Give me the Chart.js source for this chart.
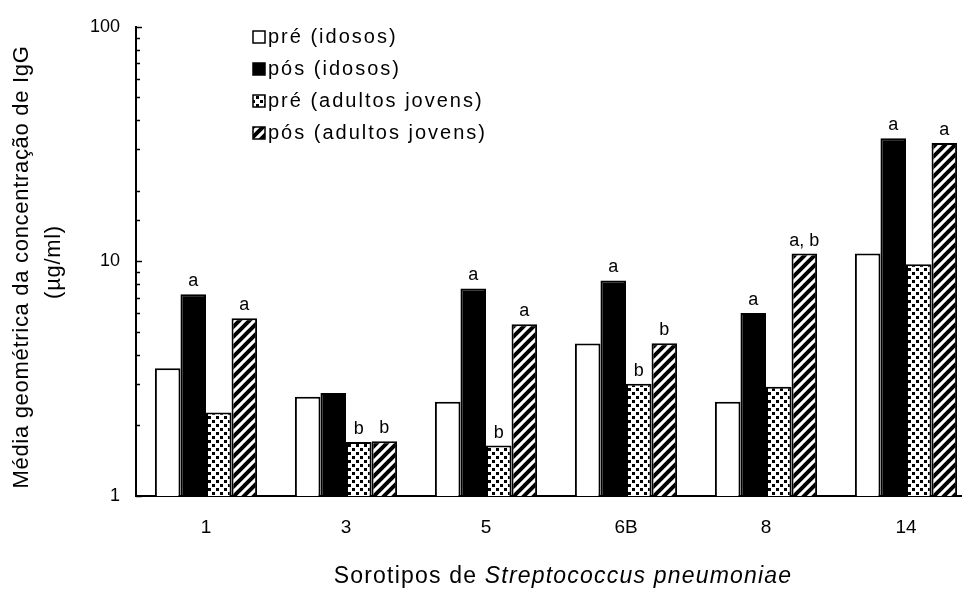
<!DOCTYPE html>
<html>
<head>
<meta charset="utf-8">
<script src="https://cdn.jsdelivr.net/npm/chart.js@4.4.1/dist/chart.umd.min.js"></script>
<style>
  html, body { margin: 0; padding: 0; background: #fff; overflow: hidden; }
  #wrap { width: 980px; height: 589px; }
</style>
</head>
<body>
<div id="wrap"><canvas id="iggChart"></canvas></div>
<script>
const serotypes = ['1', '3', '5', '6B', '8', '14'];
const preElderly = [3.5, 2.65, 2.52, 4.47, 2.52, 10.8];
const postElderly = [7.24, 2.75, 7.67, 8.29, 6.02, 33.5];
const preYoung = [2.27, 1.70, 1.64, 3.01, 2.92, 9.73];
const postYoung = [5.73, 1.71, 5.40, 4.48, 10.8, 32.0];

// letters of significance written above the bars
const lettersPreElderly = ['', '', '', '', '', ''];
const lettersPostElderly = ['a', '', 'a', 'a', 'a', 'a'];
const lettersPreYoung = ['', 'b', 'b', 'b', '', ''];
const lettersPostYoung = ['a', 'b', 'a', 'b', 'a, b', 'a'];

const seriesNames = ['pré (idosos)', 'pós (idosos)', 'pré (adultos jovens)', 'pós (adultos jovens)'];
const yTickLabels = [1, 10, 100];

const FONT = '"Liberation Sans", Arial, sans-serif';

function dotPattern() {
    const c = document.createElement('canvas');
    c.width = 8; c.height = 8;
    const g = c.getContext('2d');
    g.fillStyle = '#fff';
    g.fillRect(0, 0, 8, 8);
    g.fillStyle = '#000';
    g.fillRect(0, 0, 3, 3);
    g.fillRect(4, 4, 3, 3);
    return g.createPattern(c, 'repeat');
}

function hatchPattern() {
    const s = 10;
    const c = document.createElement('canvas');
    c.width = s; c.height = s;
    const g = c.getContext('2d');
    g.fillStyle = '#fff';
    g.fillRect(0, 0, s, s);
    g.strokeStyle = '#000';
    g.lineWidth = 4;
    g.beginPath();
    g.moveTo(-2, s + 2); g.lineTo(s + 2, -2);
    g.moveTo(-2, 2); g.lineTo(2, -2);
    g.moveTo(s - 2, s + 2); g.lineTo(s + 2, s - 2);
    g.stroke();
    return g.createPattern(c, 'repeat');
}

const allLetters = [lettersPreElderly, lettersPostElderly, lettersPreYoung, lettersPostYoung];

// legend, letters, inner y ticks and axis titles
const extras = {
    id: 'extras',
    afterDraw(chart) {
        const { ctx, scales: { y }, chartArea } = chart;
        ctx.save();
        ctx.fillStyle = '#000';
        ctx.strokeStyle = '#000';

        // inward tick marks on the log axis
        ctx.lineWidth = 1.5;
        y.ticks.forEach(t => {
            const py = Math.round(y.getPixelForValue(t.value)) + 0.5;
            const major = Number.isInteger(Math.log10(t.value));
            ctx.beginPath();
            ctx.moveTo(chartArea.left, py);
            ctx.lineTo(chartArea.left + (major ? 6 : 4), py);
            ctx.stroke();
        });

        // letters above bars
        ctx.font = '18px ' + FONT;
        ctx.textAlign = 'center';
        ctx.textBaseline = 'bottom';
        allLetters.forEach((letters, i) => {
            const meta = chart.getDatasetMeta(i);
            meta.data.forEach((bar, j) => {
                if (letters[j]) ctx.fillText(letters[j], bar.x, bar.y - 4);
            });
        });

        // legend
        ctx.font = '20px ' + FONT;
        ctx.textAlign = 'left';
        ctx.textBaseline = 'middle';
        ctx.letterSpacing = '2px';
        chart.data.datasets.forEach((ds, i) => {
            const cy = 37 + i * 32;
            ctx.fillStyle = ds.backgroundColor;
            ctx.fillRect(253, cy - 6, 12, 12);
            ctx.lineWidth = 1.5;
            ctx.strokeRect(253, cy - 6, 12, 12);
            ctx.fillStyle = '#000';
            ctx.fillText(ds.label, 268, cy);
        });

        // y axis title, two lines
        ctx.font = '22px ' + FONT;
        ctx.letterSpacing = '0.7px';
        ctx.textAlign = 'center';
        ctx.textBaseline = 'middle';
        ctx.save();
        ctx.translate(22, 267);
        ctx.rotate(-Math.PI / 2);
        ctx.fillText('Média geométrica da concentração de IgG', 0, 0);
        ctx.restore();
        ctx.save();
        ctx.translate(54, 262);
        ctx.rotate(-Math.PI / 2);
        ctx.fillText('(µg/ml)', 0, 0);
        ctx.restore();

        // x axis title, species name in italics
        const partA = 'Sorotipos de ';
        const partB = 'Streptococcus pneumoniae';
        ctx.letterSpacing = '1.2px';
        ctx.textBaseline = 'alphabetic';
        ctx.textAlign = 'left';
        ctx.font = '23px ' + FONT;
        const wA = ctx.measureText(partA).width;
        ctx.font = 'italic 23px ' + FONT;
        const wB = ctx.measureText(partB).width;
        const startX = 563 - (wA + wB) / 2;
        ctx.font = '23px ' + FONT;
        ctx.fillText(partA, startX, 583);
        ctx.font = 'italic 23px ' + FONT;
        ctx.fillText(partB, startX + wA, 583);
        ctx.letterSpacing = '0px';

        ctx.restore();
    }
};

const fills = ['#fff', '#000', dotPattern(), hatchPattern()];
const values = [preElderly, postElderly, preYoung, postYoung];

new Chart(document.getElementById('iggChart'), {
    type: 'bar',
    data: {
        labels: serotypes,
        datasets: values.map((v, i) => ({
            label: seriesNames[i],
            data: v,
            backgroundColor: fills[i],
            borderColor: '#000',
            borderWidth: 2,
            categoryPercentage: 0.73,
            barPercentage: 1.0
        }))
    },
    options: {
        responsive: true,
        maintainAspectRatio: false,
        animation: false,
        events: [],
        layout: { autoPadding: false, padding: { left: 0, top: 23, right: 4, bottom: 0 } },
        plugins: {
            legend: { display: false },
            tooltip: { enabled: false }
        },
        scales: {
            x: {
                grid: { display: false, drawTicks: false },
                border: { display: true, color: '#000', width: 2 },
                ticks: { color: '#000', font: { family: FONT, size: 19 }, padding: 20 },
                afterFit(s) { s.height = 93; }
            },
            y: {
                type: 'logarithmic',
                min: 1,
                max: 100,
                grid: { display: false, drawTicks: false },
                border: { display: true, color: '#000', width: 2 },
                ticks: {
                    autoSkip: false,
                    color: '#000',
                    font: { family: FONT, size: 18 },
                    padding: 16,
                    callback: v => yTickLabels.includes(v) ? String(v) : ''
                },
                afterFit(s) { s.width = 136; }
            }
        }
    },
    plugins: [extras]
});
</script>
</body>
</html>
